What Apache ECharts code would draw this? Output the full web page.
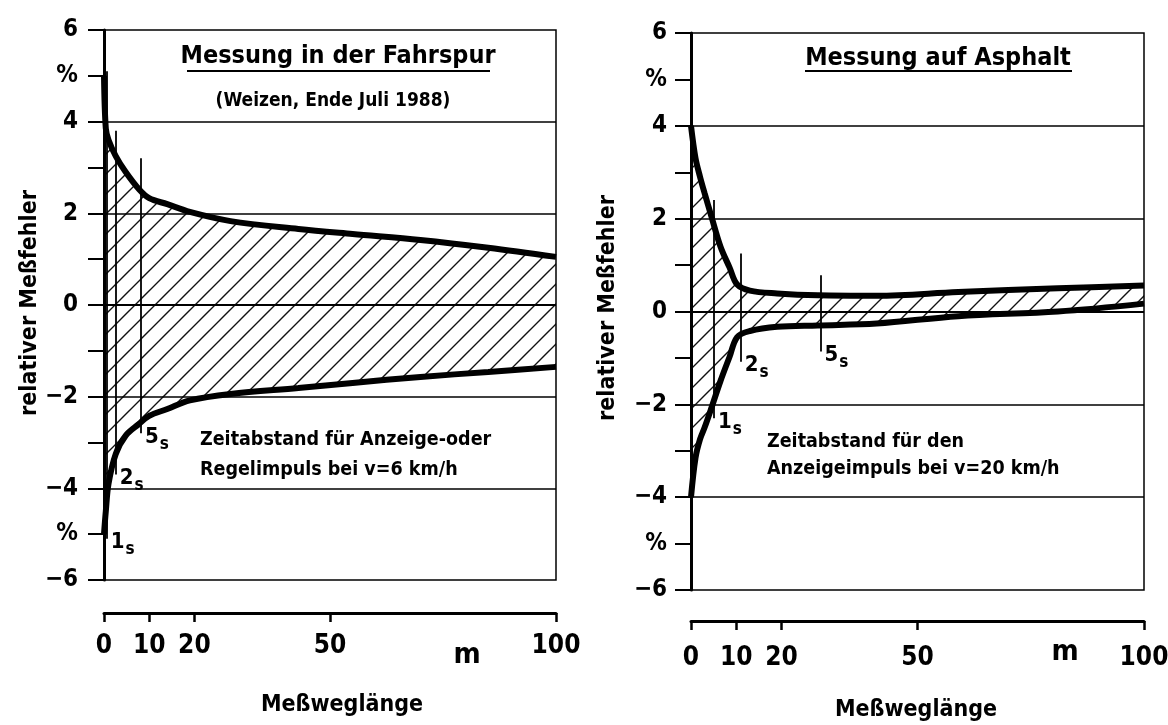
<!DOCTYPE html>
<html>
<head>
<meta charset="utf-8">
<script src="https://cdn.jsdelivr.net/npm/echarts@6/dist/echarts.min.js"></script>
<style>
html,body{margin:0;padding:0;background:#fff;}
#chart{width:1168px;height:725px;}
</style>
</head>
<body>
<div id="chart"></div>
<script>
// ---------- DATA ----------
// Left panel: Messung in der Fahrspur
const xLeft = [0, 0.4, 1, 2.6, 4.8, 7.7, 10, 14, 19, 28, 43, 55, 70, 85, 100];
const upperLeft = [5.0, 3.85, 3.6, 3.25, 2.9, 2.53, 2.33, 2.2, 2.03, 1.83, 1.66, 1.55, 1.42, 1.25, 1.05];
const lowerLeft = [-5.0, -4.5, -3.9, -3.25, -2.85, -2.6, -2.42, -2.27, -2.08, -1.94, -1.81, -1.7, -1.57, -1.46, -1.35];
// Right panel: Messung auf Asphalt
const xRight = [0, 1, 2, 3, 4.5, 6.5, 8.5, 10.2, 13, 19, 28, 41, 59, 81, 100];
const upperRight = [4.0, 3.3, 2.9, 2.55, 2.05, 1.4, 0.95, 0.58, 0.45, 0.39, 0.35, 0.34, 0.42, 0.5, 0.56];
const lowerRight = [-4.0, -3.15, -2.75, -2.5, -2.08, -1.5, -0.98, -0.55, -0.42, -0.33, -0.3, -0.26, -0.1, 0.0, 0.17];
// time-interval markers: x position, top, bottom, label
const markerXLeft = [0.6, 2.6, 8.2];
const markerTopLeft = [5.1, 3.8, 3.2];
const markerBottomLeft = [-5.1, -3.7, -2.8];
const markerLabelsLeft = ['1', '2', '5'];
const markerXRight = [5.1, 11.0, 28.6];
const markerTopRight = [2.4, 1.25, 0.78];
const markerBottomRight = [-2.3, -1.08, -0.86];
const markerLabelsRight = ['1', '2', '5'];
// axes
const xTickValues = [0, 10, 20, 50, 100];
const yTickValues = [-6, -5, -4, -3, -2, -1, 0, 1, 2, 3, 4, 5, 6];
const yTickLabels = ['\u22126', '%', '\u22124', '', '\u22122', '', '0', '', '2', '', '4', '%', '6'];
const gridLineValues = [-4, -2, 0, 2, 4];

// ---------- STYLE ----------
const FONT = "'Liberation Sans Narrow', 'DejaVu Sans Condensed', 'Arial Narrow', 'Roboto Condensed', 'Liberation Sans', sans-serif";
const INK = '#000';

function hatch() {
  const s = 20;
  const c = document.createElement('canvas');
  c.width = s; c.height = s;
  const g = c.getContext('2d');
  g.strokeStyle = '#111';
  g.lineWidth = 1.4;
  g.beginPath();
  g.moveTo(-2, s + 2); g.lineTo(s + 2, -2);
  g.moveTo(-2, 2); g.lineTo(2, -2);
  g.moveTo(s - 2, s + 2); g.lineTo(s + 2, s - 2);
  g.stroke();
  return c;
}
const pattern = { image: hatch(), repeat: 'repeat' };

function zip(a, b) { return a.map((v, i) => [v, b[i]]); }

function yAxisDef(idx, margin) {
  return {
    type: 'value', gridIndex: idx, min: -6, max: 6, interval: 1, z: 10,
    axisLine: { show: true, onZero: false, lineStyle: { color: INK, width: 3 } },
    axisTick: { show: true, length: 16, lineStyle: { color: INK, width: 2 } },
    axisLabel: {
      margin: margin, color: INK, fontFamily: FONT, fontWeight: 'bold', fontSize: 24,
      formatter: v => yTickLabels[yTickValues.indexOf(Math.round(v))] || ''
    },
    splitLine: { show: false }
  };
}
function xAxisDef(idx, offset, margin) {
  return {
    type: 'value', gridIndex: idx, min: 0, max: 100, offset: offset, z: 10,
    axisLine: { show: true, onZero: false, lineStyle: { color: INK, width: 3 } },
    axisTick: { show: true, length: 9, customValues: xTickValues, lineStyle: { color: INK, width: 2.5 } },
    axisLabel: { margin: margin, customValues: xTickValues, color: INK, fontFamily: FONT, fontWeight: 'bold', fontSize: 26 },
    splitLine: { show: false }
  };
}

function panelSeries(idx, xs, up, lo, mx, mt, mb, ml) {
  const smooth = 0.35;
  const thick = { color: INK, width: 6 };
  const base = { type: 'line', xAxisIndex: idx, yAxisIndex: idx, smooth: smooth, symbol: 'none', silent: true };
  return [
    // hatched region under the upper limit
    Object.assign({}, base, {
      data: zip(xs, up), z: 2, lineStyle: { width: 0 },
      areaStyle: { color: pattern, opacity: 1, origin: 'start' }
    }),
    // blank out everything below the lower limit
    Object.assign({}, base, {
      data: zip(xs, lo), z: 3, lineStyle: { width: 0 },
      areaStyle: { color: '#ffffff', opacity: 1, origin: 'start' }
    }),
    // grid lines, interval markers and their labels
    {
      type: 'scatter', xAxisIndex: idx, yAxisIndex: idx, symbolSize: 0, silent: true, z: 4,
      data: mx.map((x, i) => [x, mb[i], ml[i]]),
      itemStyle: { color: INK, opacity: 1 },
      label: {
        show: true, position: 'right', distance: 4, offset: [0, 4], color: INK,
        formatter: p => '{n|' + p.data[2] + '}{s|s}',
        rich: {
          n: { fontFamily: FONT, fontWeight: 'bold', fontSize: 22, color: INK },
          s: { fontFamily: FONT, fontWeight: 'bold', fontSize: 17, color: INK, padding: [14, 0, 0, 1] }
        }
      },
      markLine: {
        silent: true, symbol: 'none', animation: false,
        label: { show: false },
        data: gridLineValues.map(v => ({ yAxis: v, lineStyle: { color: INK, width: v === 0 ? 2.2 : 1.5, type: 'solid' } }))
          .concat(mx.map((x, i) => [
            { coord: [x, mt[i]], lineStyle: { color: INK, width: 1.8, type: 'solid' } },
            { coord: [x, mb[i]] }
          ]))
      }
    },
    // thick limit curves
    Object.assign({}, base, { data: zip(xs, up), z: 5, lineStyle: thick }),
    Object.assign({}, base, { data: zip(xs, lo), z: 5, lineStyle: thick })
  ];
}

const txt = (x, y, text, size, align, opts) => Object.assign({
  type: 'text', x: x, y: y, silent: true, z: 20,
  style: { text: text, fill: INK, font: 'bold ' + size + 'px ' + FONT, textAlign: align || 'center', textVerticalAlign: 'middle' }
}, opts || {});
const uline = (x1, x2, y) => ({ type: 'line', silent: true, z: 20, shape: { x1: x1, y1: y, x2: x2, y2: y }, style: { stroke: INK, lineWidth: 2 } });

const chart = echarts.init(document.getElementById('chart'), null, { renderer: 'canvas' });
chart.setOption({
  backgroundColor: '#fff',
  animation: false,
  grid: [
    { left: 104, top: 30, width: 452, height: 550, outerBoundsMode: 'none', containLabel: false, show: true, z: 10, borderColor: INK, borderWidth: 1.5, backgroundColor: 'transparent' },
    { left: 691, top: 33, width: 453, height: 557, outerBoundsMode: 'none', containLabel: false, show: true, z: 10, borderColor: INK, borderWidth: 1.5, backgroundColor: 'transparent' }
  ],
  xAxis: [xAxisDef(0, 33, 20), xAxisDef(1, 31, 24)],
  yAxis: [yAxisDef(0, 26), yAxisDef(1, 24)],
  series: [].concat(
    panelSeries(0, xLeft, upperLeft, lowerLeft, markerXLeft, markerTopLeft, markerBottomLeft, markerLabelsLeft),
    panelSeries(1, xRight, upperRight, lowerRight, markerXRight, markerTopRight, markerBottomRight, markerLabelsRight)
  ),
  graphic: [
    // left panel
    txt(338, 56, 'Messung in der Fahrspur', 25),
    uline(187, 490, 71),
    txt(333, 101, '(Weizen, Ende Juli 1988)', 19),
    txt(200, 440, 'Zeitabstand für Anzeige-oder', 19.5, 'left'),
    txt(200, 470, 'Regelimpuls bei v=6 km/h', 19.5, 'left'),
    txt(30, 303, 'relativer Meßfehler', 23, 'center', { rotation: Math.PI / 2 }),
    txt(467, 655, 'm', 29),
    txt(342, 705, 'Meßweglänge', 23),
    // right panel
    txt(938, 58, 'Messung auf Asphalt', 25),
    uline(805, 1072, 71),
    txt(767, 442, 'Zeitabstand für den', 19.5, 'left'),
    txt(767, 469, 'Anzeigeimpuls bei v=20 km/h', 19.5, 'left'),
    txt(608, 308, 'relativer Meßfehler', 23, 'center', { rotation: Math.PI / 2 }),
    txt(1065, 652, 'm', 29),
    txt(916, 710, 'Meßweglänge', 23)
  ]
});
</script>
</body>
</html>
